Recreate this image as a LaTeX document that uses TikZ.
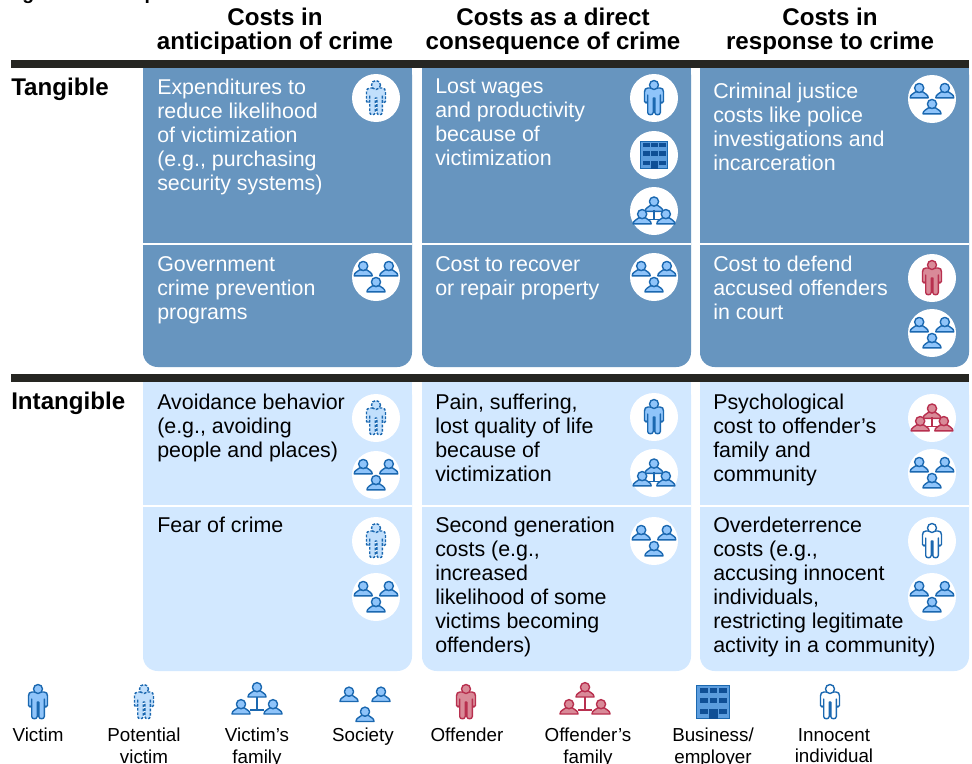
\documentclass[tikz,border=0pt]{standalone}
\usepackage{fontspec}
\setmainfont{Liberation Sans}
\definecolor{dkblue}{HTML}{6795BF}
\definecolor{ltblue}{HTML}{D2E8FF}
\definecolor{bar}{HTML}{262622}
\definecolor{iconline}{HTML}{1B68B0}
\definecolor{iconfill}{HTML}{8FC4FA}
\definecolor{redline}{HTML}{B8304F}
\definecolor{redfill}{HTML}{D98A98}
\definecolor{bizdark}{HTML}{0F4F96}
\definecolor{bizfill}{HTML}{5C9DDE}
\newcommand{\cellfont}{\fontsize{16.05pt}{18pt}\selectfont}
\newcommand{\headfont}{\fontsize{18.1pt}{18pt}\selectfont\bfseries}
\newcommand{\legfont}{\fontsize{14.1pt}{16.2pt}\selectfont}
\tikzset{
 x=0.75pt,y=-0.75pt,
 celltext/.style={anchor=north west,inner sep=0pt,align=left,font=\cellfont},
 tantext/.style={celltext,text=white},
 intext/.style={celltext,text=black},
 head/.style={align=center,inner sep=0pt,font=\headfont},
 rowlabel/.style={anchor=north west,inner sep=0pt,font=\headfont},
 legend/.style={anchor=north,align=center,inner sep=0pt,font=\legfont},
 disc/.style={circle,fill=white,draw=none,minimum size=36pt,inner sep=0pt},
 ic/.style={line width=1.05pt,draw=iconline,fill=iconfill,line join=round},
 ic red/.style={line width=1.05pt,draw=redline,fill=redfill,line join=round},
 pot/.style={line width=1.05pt,draw=iconline,fill=iconfill!55,dash pattern=on 2pt off 1.2pt,line join=round},
 inn/.style={line width=1.05pt,draw=iconline,fill=white,line join=round},
 pics/person/.style={code={
   \path[#1] (-3,-10) -- (-6,-10) .. controls (-8.5,-10) and (-9.5,-8.5) .. (-9.5,-6) -- (-9.5,3.5) .. controls (-9.5,5.5) and (-6.3,5.5) .. (-6.3,3.5) -- (-6.3,-3) -- (-6.3,14.5) .. controls (-6.3,17.5) and (-0.8,17.5) .. (-0.8,14.5) -- (-0.8,0) -- (0.8,0) -- (0.8,14.5) .. controls (0.8,17.5) and (6.3,17.5) .. (6.3,14.5) -- (6.3,-3) -- (6.3,3.5) .. controls (6.3,5.5) and (9.5,5.5) .. (9.5,3.5) -- (9.5,-6) .. controls (9.5,-8.5) and (8.5,-10) .. (6,-10) -- (3,-10) -- cycle;
   \path[#1] (0,-13) circle[radius=4.5];
 }},
 pics/bust/.style={code={
   \path[#1] (-9,6) .. controls (-9,2.5) and (-5.5,2) .. (-3.5,0) -- (3.5,0) .. controls (5.5,2) and (9,2.5) .. (9,6) -- cycle;
   \path[#1] (0,-3.8) circle[radius=4.6];
 }},
 pics/society/.style={code={
   \pic at (-16,-9) {bust={#1}};
   \pic at (16,-9) {bust={#1}};
   \pic at (0,11) {bust={#1}};
 }},
 pics/family/.style={code={
   \pic at (0,-9) {bust={#1}};
   \pic at (-16,8) {bust={#1}};
   \pic at (16,8) {bust={#1}};
   \path[#1,fill=none] (0,-3) -- (0,10) (-7,10) -- (7,10);
 }},
 pics/biz/.style={code={
   \fill[bizfill,draw=iconline,line width=0.9pt] (-16.5,-16.5) rectangle (16.5,16.5);
   \foreach \yy in {-14.3,-4.3,6.7}{
    \foreach \xx/\ww in {-13.3/8.3,-3.3/7.6,5.7/8.3}{
      \fill[bizdark] (\xx,\yy) rectangle +(\ww,5.2);
    }
   }
   \fill[bizdark] (-4,6.7) rectangle (4.5,16.5);
 }}
}
\begin{document}
\begin{tikzpicture}
\useasboundingbox (0,0) rectangle (972,764);
\fill[white] (0,0) rectangle (972,764);
% clipped title: only the bottoms of its letters lie inside the page
\begin{scope}
\clip (0,0) rectangle (972,8);
\node[anchor=base west,inner sep=0pt,font=\fontsize{14.5pt}{18pt}\selectfont\bfseries] (title) at (5,-0.5) {Figure 1. Examples of the costs of crime};
\end{scope}
% column heads
\node[head] (h1) at (275,31.5) {Costs in\\anticipation of crime};
\node[head] (h2) at (553,31.5) {Costs as a direct\\consequence of crime};
\node[head] (h3) at (830,31.5) {Costs in\\response to crime};
% panels
\newcommand{\tanpanel}[2]{%
 \fill[dkblue,rounded corners=11pt] (#1,60) rectangle (#2,367);
 \fill[dkblue] (#1,60) rectangle (#2,120);
}
\newcommand{\intpanel}[2]{%
 \fill[ltblue,rounded corners=11pt] (#1,380) rectangle (#2,671);
 \fill[ltblue] (#1,380) rectangle (#2,440);
}
\tanpanel{143}{412}\tanpanel{422}{691}\tanpanel{700}{969}
\intpanel{143}{412}\intpanel{422}{691}\intpanel{700}{969}
% row separators
\foreach \a/\b in {143/412,422/691,700/969}{
 \draw[white,line width=2pt] (\a,244) -- (\b,244);
 \draw[white,line width=2pt] (\a,506) -- (\b,506);
}
% bars
\fill[bar] (11,60) rectangle (969,68);
\fill[bar] (11,374) rectangle (969,382);
% row labels
\node[rowlabel] (rt) at (11,78) {Tangible};
\node[rowlabel] (ri) at (11,392) {Intangible};
% tangible
\node[tantext] (t11) at (157,79) {Expenditures to\\reduce likelihood\\of victimization\\(e.g., purchasing\\security systems)};
\node[tantext] (t12) at (435,79) {Lost wages\\and productivity\\because of\\victimization};
\node[tantext] (t13) at (713,83) {Criminal justice\\costs like police\\investigations and\\incarceration};
\node[tantext] (t21) at (157,256) {Government\\crime prevention\\programs};
\node[tantext] (t22) at (435,256) {Cost to recover\\or repair property};
\node[tantext] (t23) at (713,256) {Cost to defend\\accused offenders\\in court};
% intangible
\node[intext] (i11) at (157,394) {Avoidance behavior\\(e.g., avoiding\\people and places)};
\node[intext] (i12) at (435,394) {Pain, suffering,\\lost quality of life\\because of\\victimization};
\node[intext] (i13) at (713,394) {Psychological\\cost to offender’s\\family and\\community};
\node[intext] (i21) at (157,517) {Fear of crime};
\node[intext] (i22) at (435,517) {Second generation\\costs (e.g.,\\increased\\likelihood of some\\victims becoming\\offenders)};
\node[intext] (i23) at (713,517) {Overdeterrence\\costs (e.g.,\\accusing innocent\\individuals,\\restricting legitimate\\activity in a community)};
% discs
\foreach \p in {(376,98),(376,277),(654,98),(654,155),(654,211),(654,277),(932,99),(932,278),(932,333),(376,418),(376,475),(654,417),(654,473),(932,418),(932,473),(376,541),(376,597),(654,541),(932,541),(932,597)}{
 \node[disc] at \p {};
}
% icons in discs
\pic at (376,98) {person={pot}};
\pic[scale=0.8] at (376,277) {society={ic}};
\pic at (654,98) {person={ic}};
\pic[scale=0.84] at (654,155) {biz};
\pic[scale=0.74] at (654,212) {family={ic}};
\pic[scale=0.8] at (654,277) {society={ic}};
\pic[scale=0.8] at (932,99) {society={ic}};
\pic at (932,278) {person={ic red}};
\pic[scale=0.8] at (932,333) {society={ic}};
\pic at (376,418) {person={pot}};
\pic[scale=0.8] at (376,475) {society={ic}};
\pic at (654,417) {person={ic}};
\pic[scale=0.74] at (654,474) {family={ic}};
\pic[scale=0.74] at (932,419) {family={ic red}};
\pic[scale=0.8] at (932,473) {society={ic}};
\pic at (376,541) {person={pot}};
\pic[scale=0.8] at (376,597) {society={ic}};
\pic[scale=0.8] at (654,541) {society={ic}};
\pic at (932,541) {person={inn}};
\pic[scale=0.8] at (932,597) {society={ic}};
% legend
\pic at (38,702) {person={ic}};
\pic at (144,702) {person={pot}};
\pic at (257,700) {family={ic}};
\pic at (365,704.5) {society={ic}};
\pic at (466,702) {person={ic red}};
\pic at (585,700) {family={ic red}};
\pic at (713,702) {biz};
\pic at (830,702) {person={inn}};
\node[legend] (l1) at (38,728) {Victim};
\node[legend] (l2) at (144,728) {Potential\\victim};
\node[legend] (l3) at (257,728) {Victim’s\\family};
\node[legend] (l4) at (363,728) {Society};
\node[legend] (l5) at (467,728) {Offender};
\node[legend] (l6) at (588,728) {Offender’s\\family};
\node[legend] (l7) at (713,728) {Business/\\employer};
\node[legend] (l8) at (834,728) {Innocent\\individual};
\end{tikzpicture}
\end{document}
